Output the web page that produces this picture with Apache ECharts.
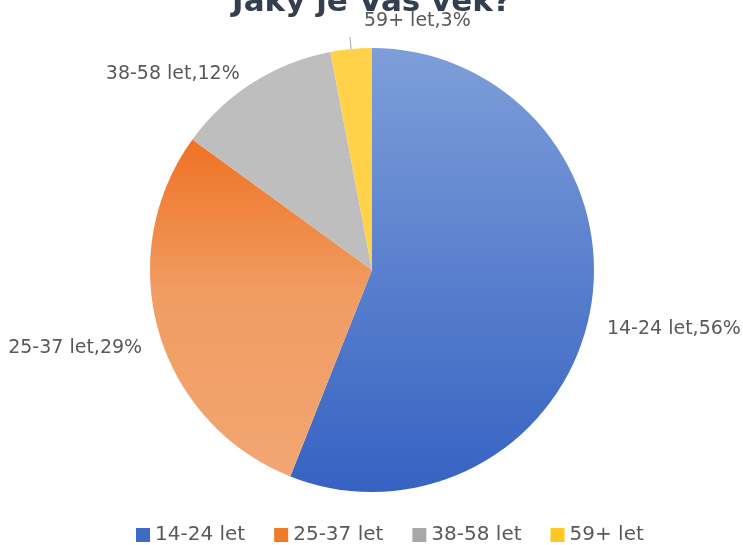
<!DOCTYPE html>
<html>
<head>
<meta charset="utf-8">
<script src="https://cdn.jsdelivr.net/npm/echarts@6/dist/echarts.min.js"></script>
<style>html,body{margin:0;padding:0;background:#fff}#c{width:743px;height:545px}</style>
</head>
<body>
<div id="c"></div>
<script>
const titleText = 'Jaký je Váš věk?';
const categories = ['14-24 let', '25-37 let', '38-58 let', '59+ let'];
const values = [56, 29, 12, 3];
const legendColors = ['#3C6CC4', '#EE7A2A', '#A8A8A8', '#FFC820'];

const G = echarts.graphic.LinearGradient;
const sliceColors = [
  new G(0, 0, 0, 1, [{offset: 0, color: '#7E9ED9'}, {offset: 1, color: '#3662C2'}]),
  new G(0, 0, 0, 1, [{offset: 0, color: '#EF7224'}, {offset: 0.45, color: '#F09C62'}, {offset: 1, color: '#F2A672'}]),
  '#BEBEBE',
  '#FFD24A'
];

const chart = echarts.init(document.getElementById('c'));
const font = 'DejaVu Sans';
chart.setOption({
  animation: false,
  title: {
    text: titleText, left: 'center', top: -18,
    textStyle: {fontFamily: font, fontSize: 31, fontWeight: 'bold', color: '#333F50'}
  },
  legend: {
    bottom: -5, left: 131, itemWidth: 14, itemHeight: 14, itemGap: 29,
    icon: 'rect',
    textStyle: {fontFamily: font, fontSize: 20, color: '#595959'},
    data: categories.map((c, i) => ({name: c, itemStyle: {color: legendColors[i]}}))
  },
  series: [{
    type: 'pie',
    center: [372, 270],
    radius: 222,
    startAngle: 90,
    clockwise: true,
    label: {
      position: 'outside', overflow: 'none',
      fontFamily: font, fontSize: 19, color: '#595959',
      formatter: p => p.name + ',' + p.value + '%'
    },
    labelLine: {show: false, length: 8, length2: 4},
    labelLayout: function (p) {
      if (p.dataIndex === 0) return {dy: 16};
      if (p.dataIndex === 1) return {dy: 14};
      if (p.dataIndex === 2) return {dy: -2};
      if (p.dataIndex === 3) return {align: 'left', dx: 19, dy: -16, labelLinePoints: p.labelLinePoints};
      return {};
    },
    data: categories.map((c, i) => ({
      name: c, value: values[i],
      itemStyle: {color: sliceColors[i]},
      labelLine: i === 3 ? {show: true, length: 12, length2: 0, lineStyle: {color: '#A6A6A6'}} : undefined
    }))
  }]
});
</script>
</body>
</html>
